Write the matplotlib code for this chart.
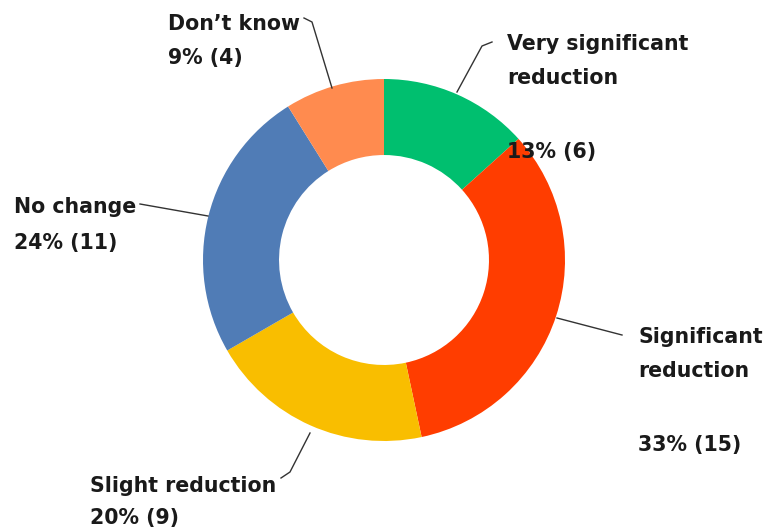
import matplotlib.pyplot as plt

###############################################

categories = ["Very significant\nreduction", "Significant\nreduction",
              "Slight reduction", "No change", "Don\u2019t know"]
counts = [6, 15, 9, 11, 4]
percents = ["13%", "33%", "20%", "24%", "9%"]
colors = ["#00BF6F", "#FF3D00", "#F9BE00", "#507CB6", "#FF8B4F"]

###############################################

W, H = 771, 531
plt.rcParams['font.family'] = ['DejaVu Sans']

fig = plt.figure(figsize=(W / 100, H / 100), dpi=100)
ax = fig.add_axes([0, 0, 1, 1])

cx, cy, r = 384, H - 260, 181
ax.pie(counts, colors=colors, startangle=90, counterclock=False,
       center=(cx, cy), radius=r, frame=True,
       wedgeprops=dict(width=r * 0.42, linewidth=0))
ax.set_xlim(0, W)
ax.set_ylim(0, H)
ax.set_aspect("equal")
ax.axis("off")

# label placement (pixel coords, y from top): name pos, value pos, leader line
layout = [
    dict(name=(507, 44), val=(507, 152), line=[(492, 42), (482, 46), (457, 92)]),
    dict(name=(638, 337), val=(638, 445), line=[(622, 335), (557, 318)]),
    dict(name=(90, 486), val=(90, 518), line=[(281, 478), (290, 472), (310, 433)]),
    dict(name=(14, 207), val=(14, 243), line=[(140, 204), (208, 216)]),
    dict(name=(168, 24), val=(168, 58), line=[(304, 18), (312, 22), (332, 88)]),
]

txt = dict(fontsize=14.8, fontweight="bold", color="#1a1a1a", va="center",
           ha="left")
for cat, cnt, pct, lay in zip(categories, counts, percents, layout):
    nx, ny = lay["name"]
    lines = cat.split("\n")
    for i, line in enumerate(lines):
        ax.text(nx, H - ny - 34 * i, line, **txt)
    vx, vy = lay["val"]
    ax.text(vx, H - vy, f"{pct} ({cnt})", **txt)
    xs = [p[0] for p in lay["line"]]
    ys = [H - p[1] for p in lay["line"]]
    ax.plot(xs, ys, color="#333333", linewidth=1)

fig.savefig("out.png", dpi=100)
